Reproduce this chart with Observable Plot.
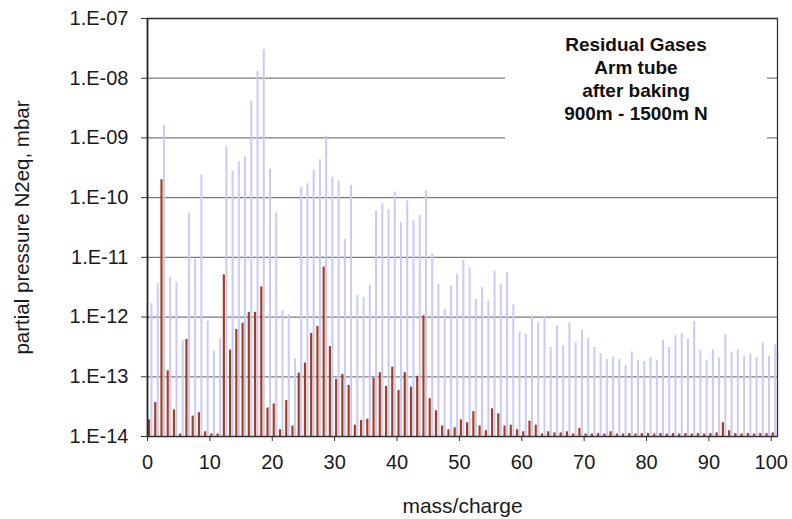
<!DOCTYPE html>
<html>
<head>
<meta charset="utf-8">
<script src="https://cdn.jsdelivr.net/npm/d3@7"></script>
<script src="https://cdn.jsdelivr.net/npm/@observablehq/plot@0.6"></script>
<style>
  html, body { margin: 0; padding: 0; background: #fff; }
  #wrap { position: relative; width: 792px; height: 519px; font-family: "Liberation Sans", Arial, sans-serif; }
  #note { position: absolute; left: 505px; top: 20px; width: 262px; height: 140px; background: #fff;
          text-align: center; font-weight: bold; font-size: 19px; line-height: 23px; color: #111; padding-top: 13px; box-sizing: border-box; }
</style>
</head>
<body>
<div id="wrap"></div>
<script>
// mass/charge categories
const masses = d3.range(0, 101);

// light series (lavender bars)
const lavender = [
  1.7e-12, 3.6e-12, 1.6e-9, 4.6e-12, 3.8e-12, 4.0e-13, 5.5e-11, 9.3e-12, 2.4e-10, 8.5e-13,
  2.7e-13, 4.4e-13, 7.1e-10, 2.8e-10, 4.0e-10, 4.8e-10, 4.1e-9, 1.3e-8, 3.0e-8, 3.0e-10,
  5.6e-11, 1.3e-12, 1.1e-12, 2.0e-13, 1.5e-10, 1.7e-10, 2.9e-10, 4.3e-10, 1.07e-9, 2.2e-10,
  1.9e-10, 2.0e-11, 1.6e-10, 2.3e-12, 2.1e-12, 3.4e-12, 6.0e-11, 7.9e-11, 6.3e-11, 1.24e-10,
  3.8e-11, 8.8e-11, 4.1e-11, 5.0e-11, 1.3e-10, 1.15e-11, 3.5e-12, 1.35e-12, 3.3e-12, 5.2e-12,
  8.9e-12, 6.7e-12, 2.0e-12, 3.1e-12, 1.85e-12, 5.9e-12, 3.5e-12, 5.5e-12, 1.6e-12, 5.6e-13,
  5.1e-13, 1.04e-12, 8.0e-13, 1.0e-12, 3.1e-13, 7.1e-13, 3.3e-13, 8.0e-13, 3.7e-13, 6.0e-13,
  4.4e-13, 3.1e-13, 2.4e-13, 1.95e-13, 2.1e-13, 1.95e-13, 1.55e-13, 2.6e-13, 1.9e-13, 1.8e-13,
  2.1e-13, 1.9e-13, 4.1e-13, 3.1e-13, 4.9e-13, 5.3e-13, 4.3e-13, 8.5e-13, 2.8e-13, 1.9e-13,
  2.8e-13, 2.05e-13, 5.1e-13, 2.6e-13, 2.8e-13, 2.2e-13, 2.4e-13, 2.1e-13, 3.7e-13, 2.2e-13,
  3.4e-13
];

// dark series (red-brown bars)
const red = [
  1.9e-14, 3.7e-14, 2.0e-10, 1.26e-13, 2.8e-14, 1.1e-14, 4.2e-13, 2.2e-14, 2.5e-14, 1.2e-14,
  1.1e-14, 1.1e-14, 5.1e-12, 2.8e-13, 6.2e-13, 7.9e-13, 1.2e-12, 1.2e-12, 3.2e-12, 3.0e-14,
  3.5e-14, 1.3e-14, 4.0e-14, 1.5e-14, 1.15e-13, 1.7e-13, 5.3e-13, 7.0e-13, 6.9e-12, 3.2e-13,
  9.0e-14, 1.1e-13, 7.2e-14, 1.55e-14, 1.85e-14, 1.95e-14, 9.4e-14, 1.17e-13, 6.9e-14, 1.45e-13,
  5.9e-14, 1.17e-13, 6.7e-14, 1.02e-13, 1.05e-12, 4.3e-14, 2.7e-14, 1.5e-14, 1.3e-14, 1.4e-14,
  1.9e-14, 1.7e-14, 2.6e-14, 1.5e-14, 1.25e-14, 2.9e-14, 2.4e-14, 1.5e-14, 1.55e-14, 1.3e-14,
  1.2e-14, 1.8e-14, 1.55e-14, 1.1e-14, 1.2e-14, 1.15e-14, 1.15e-14, 1.2e-14, 1.1e-14, 1.36e-14,
  1.1e-14, 1.1e-14, 1.12e-14, 1.1e-14, 1.2e-14, 1.1e-14, 1.1e-14, 1.12e-14, 1.1e-14, 1.12e-14,
  1.12e-14, 1.1e-14, 1.12e-14, 1.1e-14, 1.12e-14, 1.1e-14, 1.12e-14, 1.1e-14, 1.12e-14, 1.1e-14,
  1.12e-14, 1.15e-14, 1.7e-14, 1.25e-14, 1.12e-14, 1.1e-14, 1.12e-14, 1.1e-14, 1.12e-14, 1.12e-14,
  1.15e-14
];

// axis ticks and labels
const yTicks = [1e-14, 1e-13, 1e-12, 1e-11, 1e-10, 1e-9, 1e-8, 1e-7];
const yTickLabels = ["1.E-14", "1.E-13", "1.E-12", "1.E-11", "1.E-10", "1.E-09", "1.E-08", "1.E-07"];
const xTicks = [0, 10, 20, 30, 40, 50, 60, 70, 80, 90, 100];

const titleLines = ["Residual Gases", "Arm tube", "after baking", "900m - 1500m N"];
const xTitle = "mass/charge";
const yTitle = "partial pressure N2eq, mbar";

const lavData = masses.map((m, i) => ({mass: m, value: lavender[i]}));
const redData = masses.map((m, i) => ({mass: m, value: red[i]}));
const base = yTicks[0];

const chart = Plot.plot({
  width: 792,
  height: 519,
  marginLeft: 147,
  marginRight: 15,
  marginTop: 18,
  marginBottom: 83,
  style: {fontFamily: "Liberation Sans, Arial, sans-serif", color: "#1a1a1a", background: "#fff"},
  x: {type: "linear", domain: [0, 101]},
  y: {type: "log", domain: [yTicks[0], yTicks[yTicks.length - 1]]},
  marks: [
    Plot.ruleY(yTicks, {stroke: "#7a7a7a", strokeWidth: 1.3}),
    Plot.ruleX(lavData, {x: "mass", y1: base, y2: "value", stroke: "#c9c9fb", strokeWidth: 2, dx: 4}),
    Plot.ruleX(redData, {x: "mass", y1: base, y2: "value", stroke: "#a3401c", strokeWidth: 2.2, dx: 1.5}),
    Plot.frame({stroke: "#333", strokeWidth: 1.3}),
    Plot.ruleX([0], {stroke: "#222", strokeWidth: 1.6}),
    Plot.axisY({ticks: yTicks, tickFormat: d => yTickLabels[yTicks.indexOf(d)], tickSize: 6, tickPadding: 13,
      fontSize: 20, label: null, stroke: "#333"}),
    Plot.axisX({ticks: xTicks, tickFormat: d => String(d), tickSize: 5, tickPadding: 13,
      fontSize: 20, label: null, stroke: "#333"}),
    Plot.text([xTitle], {frameAnchor: "bottom", dy: 76, fontSize: 21, fill: "#1a1a1a", textAnchor: "middle"}),
    Plot.text([yTitle], {frameAnchor: "left", dx: -125, rotate: -90, fontSize: 20.5, fill: "#1a1a1a", textAnchor: "middle"})
  ]
});

const wrap = document.getElementById("wrap");
wrap.appendChild(chart);
const note = document.createElement("div");
note.id = "note";
note.innerHTML = titleLines.map(t => `<div>${t}</div>`).join("");
wrap.appendChild(note);
</script>
</body>
</html>
